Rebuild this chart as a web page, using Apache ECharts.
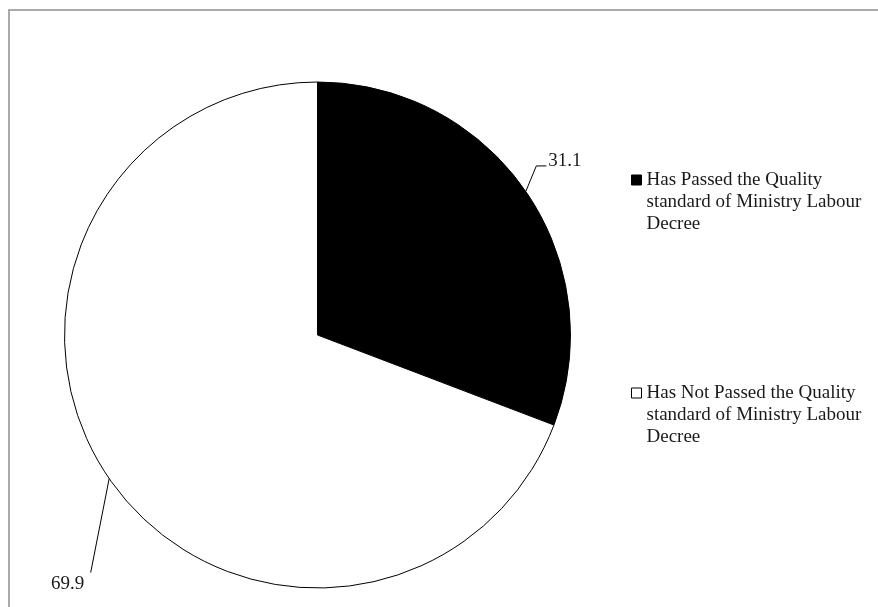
<!DOCTYPE html>
<html>
<head>
<meta charset="utf-8">
<script src="https://cdn.jsdelivr.net/npm/echarts@6/dist/echarts.min.js"></script>
<style>
  html, body { margin: 0; padding: 0; background: #fff; }
  #chart { width: 878px; height: 607px; }
</style>
</head>
<body>
<div id="chart"></div>
<script>
// ---- data ----
var categories = [
  'Has Passed the Quality\nstandard of Ministry Labour\nDecree',
  'Has Not Passed the Quality\nstandard of Ministry Labour\nDecree'
];
var values = [31.1, 69.9];
var sliceColors = ['#000000', '#ffffff'];

// ---- label placement (offsets from each slice's outer edge anchor) ----
var labelOffsets = [
  { bx: 10.5, by: -25.5, ex: 20.5, ey: -25.5, tx: 22.5, ty: -30, align: 'left' },
  { bx: -18.5, by: 94, ex: -18.5, ey: 94, tx: -41.5, ty: 105, align: 'center' }
];

var FONT = '"Liberation Serif", "Times New Roman", serif';

var chart = echarts.init(document.getElementById('chart'), null, { renderer: 'canvas' });

var pieData = categories.map(function (name, i) {
  return {
    name: name,
    value: values[i],
    itemStyle: { color: sliceColors[i], borderColor: '#000', borderWidth: 1 }
  };
});

chart.setOption({
  animation: false,
  backgroundColor: '#ffffff',
  graphic: [{
    type: 'rect',
    silent: true,
    shape: { x: 9, y: 10, width: 1000, height: 800 },
    style: { fill: 'none', stroke: '#aaaaaa', lineWidth: 2 }
  }],
  legend: {
    orient: 'vertical',
    left: 626,
    top: 120,
    itemWidth: 10,
    itemHeight: 10,
    itemGap: 103,
    icon: 'rect',
    selectedMode: false,
    data: categories,
    // two leading blank lines keep the icon level with the first text line
    formatter: function (name) { return '\n\n' + name; },
    textStyle: {
      fontFamily: FONT,
      fontSize: 19,
      lineHeight: 22,
      color: '#1a1a1a'
    },
    itemStyle: { borderColor: '#000', borderWidth: 1 }
  },
  series: [{
    type: 'pie',
    center: [317.5, 335],
    radius: 253,
    startAngle: 90,
    clockwise: true,
    data: pieData,
    label: {
      show: true,
      position: 'outside',
      formatter: function (p) { return p.value.toFixed(1); },
      fontFamily: FONT,
      fontSize: 19,
      color: '#1a1a1a'
    },
    labelLine: {
      show: true,
      length: 15,
      length2: 8,
      lineStyle: { color: '#000', width: 1 }
    },
    labelLayout: function (p) {
      var pts = p.labelLinePoints;
      if (!pts || !pts[0]) return {};
      var a = pts[0];
      var o = labelOffsets[p.dataIndex];
      return {
        x: a[0] + o.tx,
        y: a[1] + o.ty,
        align: o.align,
        verticalAlign: 'middle',
        labelLinePoints: [
          [a[0], a[1]],
          [a[0] + o.bx, a[1] + o.by],
          [a[0] + o.ex, a[1] + o.ey]
        ]
      };
    },
    emphasis: { disabled: true }
  }]
});
</script>
</body>
</html>
